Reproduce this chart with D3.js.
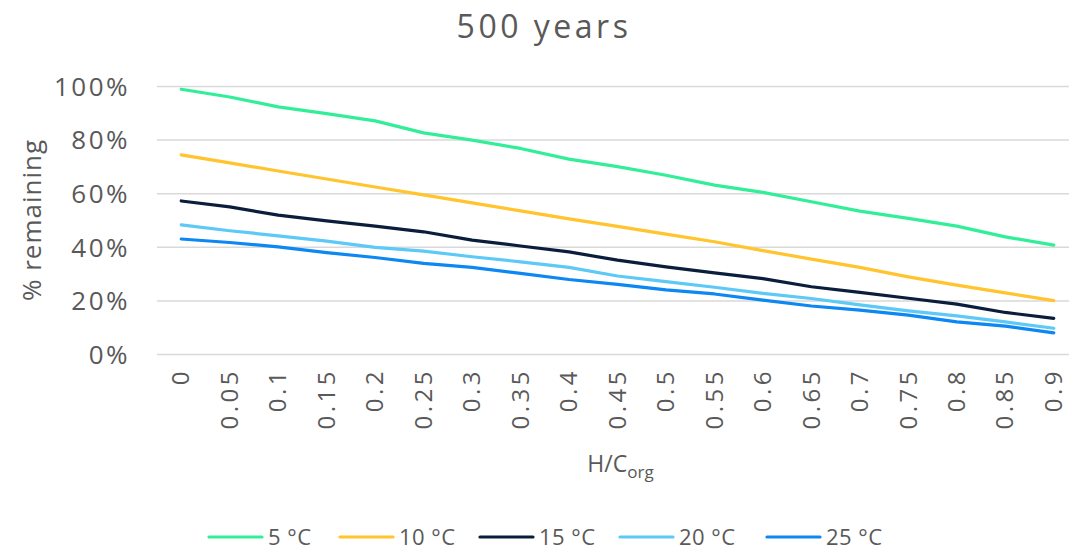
<!DOCTYPE html>
<html>
<head>
<meta charset="utf-8">
<script src="https://cdn.jsdelivr.net/npm/d3@7"></script>
<style>
  html, body { margin: 0; padding: 0; background: #fff; }
  svg { display: block; font-family: "Open Sans", sans-serif; }
</style>
</head>
<body>
<svg id="chart" width="1069" height="550"></svg>
<script>
const title = "500 years";
const categories = ["0","0.05","0.1","0.15","0.2","0.25","0.3","0.35","0.4","0.45","0.5","0.55","0.6","0.65","0.7","0.75","0.8","0.85","0.9"];
const yTicks = [0, 0.2, 0.4, 0.6, 0.8, 1.0];
const seriesNames = ["5 °C", "10 °C", "15 °C", "20 °C", "25 °C"];
const seriesColors = ["#33EE99", "#FFC42E", "#0A1E3C", "#5CC9F7", "#0D87F2"];
const s5  = [0.988, 0.959, 0.922, 0.897, 0.870, 0.825, 0.798, 0.767, 0.727, 0.699, 0.667, 0.630, 0.603, 0.568, 0.533, 0.506, 0.477, 0.437, 0.406];
const s10 = [0.743, 0.713, 0.683, 0.653, 0.623, 0.594, 0.564, 0.534, 0.504, 0.476, 0.447, 0.419, 0.386, 0.354, 0.323, 0.288, 0.257, 0.228, 0.199];
const s15 = [0.571, 0.549, 0.518, 0.497, 0.477, 0.456, 0.425, 0.403, 0.381, 0.350, 0.325, 0.303, 0.281, 0.251, 0.230, 0.208, 0.186, 0.155, 0.133];
const s20 = [0.482, 0.460, 0.441, 0.421, 0.398, 0.384, 0.363, 0.344, 0.323, 0.291, 0.270, 0.249, 0.226, 0.207, 0.183, 0.161, 0.142, 0.120, 0.096];
const s25 = [0.429, 0.416, 0.400, 0.378, 0.360, 0.338, 0.323, 0.301, 0.278, 0.260, 0.239, 0.224, 0.201, 0.179, 0.164, 0.145, 0.120, 0.104, 0.079];
const seriesValues = [s5, s10, s15, s20, s25];

const svg = d3.select("#chart");
const W = 1069, H = 550;
const margin = { left: 157, right: -9, top: 86, bottom: 196 };
const plotL = margin.left, plotR = W - margin.right, plotT = margin.top, plotB = H - margin.bottom;
const textColor = "#595959";

const x = d3.scaleBand().domain(categories).range([plotL, plotR]).padding(0);
const xc = d => x(d) + x.bandwidth() / 2;
const y = d3.scaleLinear().domain([0, 1]).range([plotB, plotT]);

// title
svg.append("text")
  .attr("x", 544).attr("y", 38)
  .attr("text-anchor", "middle")
  .attr("fill", textColor)
  .style("font-size", "32px")
  .style("letter-spacing", "3.5px")
  .text(title);

// gridlines
const grid = svg.append("g")
  .attr("transform", `translate(${plotL},0)`)
  .call(d3.axisLeft(y).tickValues(yTicks).tickSize(-(plotR - plotL)).tickFormat(""));
grid.select(".domain").remove();
grid.selectAll("line").attr("stroke", "#d9d9d9").attr("stroke-width", 1.5);

// y axis labels
const yAxis = svg.append("g")
  .attr("transform", `translate(${plotL - 27},0)`)
  .call(d3.axisLeft(y).tickValues(yTicks).tickSize(0).tickPadding(0).tickFormat(d3.format(".0%")));
yAxis.select(".domain").remove();
yAxis.selectAll("text")
  .attr("fill", textColor)
  .style("font-size", "26px")
  .style("letter-spacing", "2.5px")
  .style("font-family", "'Open Sans', sans-serif")
  .attr("dy", "0.36em");

// x axis labels
const xAxis = svg.append("g")
  .attr("transform", `translate(0,${plotB})`)
  .call(d3.axisBottom(x).tickSize(0).tickPadding(0));
xAxis.select(".domain").remove();
xAxis.selectAll("text")
  .attr("fill", textColor)
  .style("font-size", "24px")
  .style("letter-spacing", "3.5px")
  .style("font-family", "'Open Sans', sans-serif")
  .attr("text-anchor", "end")
  .attr("transform", "rotate(-90)")
  .attr("x", -14)
  .attr("y", 0)
  .attr("dy", "0.34em");

// y axis title
svg.append("text")
  .attr("transform", `translate(41,${(plotT + plotB) / 2}) rotate(-90)`)
  .attr("text-anchor", "middle")
  .attr("fill", textColor)
  .style("font-size", "26px")
  .style("letter-spacing", "1px")
  .text("% remaining");

// x axis title
const xt = svg.append("text")
  .attr("x", (plotL + plotR) / 2 + 3).attr("y", 472)
  .attr("text-anchor", "middle")
  .attr("fill", textColor)
  .style("font-size", "23px");
xt.append("tspan").text("H/C");
xt.append("tspan").attr("dy", 6).style("font-size", "17px").text("org");

// lines
const line = d3.line()
  .x((d, i) => xc(categories[i]))
  .y(d => y(d));
seriesValues.forEach((vals, k) => {
  svg.append("path")
    .datum(vals)
    .attr("fill", "none")
    .attr("stroke", seriesColors[k])
    .attr("stroke-width", 3.2)
    .attr("stroke-linecap", "round")
    .attr("stroke-linejoin", "round")
    .attr("d", line);
});

// legend
const legendX = [209, 340, 480, 620, 767];
const legend = svg.append("g");
seriesNames.forEach((name, k) => {
  const g = legend.append("g").attr("transform", `translate(${legendX[k]},537)`);
  g.append("line").attr("x1", 0).attr("x2", 53).attr("y1", 0).attr("y2", 0)
    .attr("stroke", seriesColors[k]).attr("stroke-width", 3.2).attr("stroke-linecap", "round");
  g.append("text").attr("x", 59).attr("y", 0).attr("dy", "0.36em")
    .attr("fill", textColor).style("font-size", "22px").style("letter-spacing", "0.5px").text(name);
});
</script>
</body>
</html>
